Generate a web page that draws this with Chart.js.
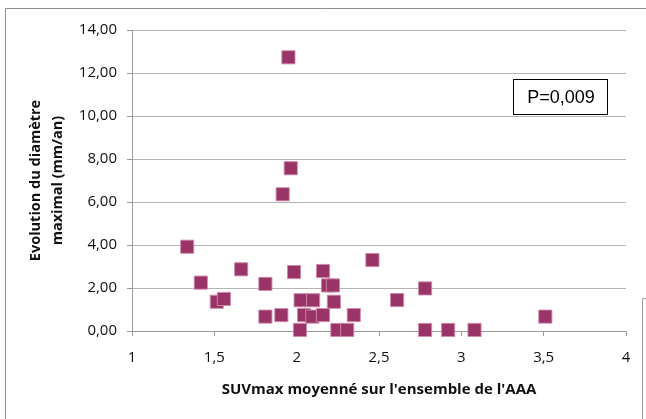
<!DOCTYPE html>
<html>
<head>
<meta charset="utf-8">
<script src="https://cdn.jsdelivr.net/npm/chart.js@4/dist/chart.umd.min.js"></script>
<style>
  html, body { margin: 0; padding: 0; background: #fff; }
  canvas { display: block; }
</style>
</head>
<body>
<canvas id="suvChart" width="646" height="419"></canvas>
<script>
// SUVmax moyen (x) vs evolution du diametre maximal (y, mm/an)
const suvValues = [1.335, 1.418, 1.515, 1.558, 1.663, 1.81, 1.81, 1.907, 1.915, 1.95, 1.964, 1.984,
                   2.02, 2.024, 2.10, 2.045, 2.095, 2.16, 2.16, 2.19, 2.22, 2.226, 2.247, 2.307,
                   2.347, 2.46, 2.61, 2.78, 2.78, 2.92, 3.08, 3.51];
const diamValues = [3.92, 2.25, 1.36, 1.49, 2.87, 2.19, 0.67, 0.74, 6.36, 12.73, 7.57, 2.74,
                    0.05, 1.43, 1.43, 0.74, 0.67, 0.74, 2.79, 2.12, 2.12, 1.36, 0.05, 0.05,
                    0.74, 3.30, 1.44, 1.98, 0.05, 0.05, 0.05, 0.67];
const xTicks = [1, 1.5, 2, 2.5, 3, 3.5, 4];
const xTickLabels = ["1", "1,5", "2", "2,5", "3", "3,5", "4"];
const yTicks = [0, 2, 4, 6, 8, 10, 12, 14];
const yTickLabels = ["0,00", "2,00", "4,00", "6,00", "8,00", "10,00", "12,00", "14,00"];
const pValueText = "P=0,009";

const points = suvValues.map((x, i) => ({ x: x, y: diamValues[i] }));

const frameAndBox = {
    id: "frameAndBox",
    afterDraw(chart) {
        const ctx = chart.ctx;
        ctx.save();
        // outer frame (Excel chart border)
        ctx.strokeStyle = "#8c8c8c";
        ctx.lineWidth = 1;
        ctx.beginPath();
        ctx.moveTo(5.5, 419);
        ctx.lineTo(5.5, 8.5);
        ctx.lineTo(646, 8.5);
        ctx.stroke();
        ctx.strokeStyle = "#9a9a9a";
        ctx.beginPath();
        ctx.moveTo(646, 298.5);
        ctx.lineTo(642.5, 298.5);
        ctx.lineTo(642.5, 419);
        ctx.stroke();

        // P value box
        ctx.strokeStyle = "#000";
        ctx.fillStyle = "#fff";
        ctx.fillRect(513, 79, 95, 36);
        ctx.strokeRect(513.5, 79.5, 94, 35);
        ctx.fillStyle = "#000";
        ctx.font = "18px 'Liberation Sans', Arial, sans-serif";
        ctx.textAlign = "center";
        ctx.textBaseline = "middle";
        ctx.fillText(pValueText, 561, 98);
        ctx.restore();
    }
};

new Chart(document.getElementById("suvChart").getContext("2d"), {
    type: "scatter",
    data: {
        datasets: [{
            data: points,
            pointStyle: "rect",
            pointRadius: 9.3,
            pointHoverRadius: 9.3,
            backgroundColor: "#9a3366",
            borderColor: "rgba(205,140,175,0.9)",
            borderWidth: 1,
            clip: false
        }]
    },
    options: {
        responsive: false,
        animation: false,
        layout: { padding: { top: 30, right: 20, bottom: 0, left: 0 } },
        plugins: { legend: { display: false }, tooltip: { enabled: false } },
        scales: {
            x: {
                type: "linear",
                min: 1, max: 4,
                afterFit: s => { s.height = 88; },
                afterBuildTicks: s => { s.ticks = xTicks.map(v => ({ value: v })); },
                ticks: {
                    color: "#111",
                    padding: 13,
                    font: { family: "'Open Sans'", size: 15 },
                    callback: v => xTickLabels[xTicks.indexOf(v)]
                },
                grid: { drawOnChartArea: false, drawTicks: true, tickLength: 5, color: "#9a9a9a" },
                border: { color: "#9a9a9a" },
                title: {
                    display: true,
                    text: "SUVmax moyenné sur l'ensemble de l'AAA",
                    color: "#111",
                    font: { family: "'Open Sans'", size: 15, weight: "bold" },
                    padding: { top: 0, bottom: 20 }
                }
            },
            y: {
                type: "linear",
                min: 0, max: 14,
                afterFit: s => { s.width = 132; },
                afterBuildTicks: s => { s.ticks = yTicks.map(v => ({ value: v })); },
                ticks: {
                    color: "#111",
                    padding: 10,
                    font: { family: "'Open Sans'", size: 15 },
                    callback: v => yTickLabels[yTicks.indexOf(v)]
                },
                grid: { color: "#b4b4b4", tickLength: 5, tickColor: "#9a9a9a" },
                border: { color: "#9a9a9a" },
                title: {
                    display: true,
                    text: ["Evolution du diamètre", "maximal (mm/an)"],
                    color: "#111",
                    font: { family: "'Open Sans'", size: 14.5, weight: "bold", lineHeight: "22px" },
                    padding: { top: 25, bottom: 0 }
                }
            }
        }
    },
    plugins: [frameAndBox]
});
</script>
</body>
</html>
